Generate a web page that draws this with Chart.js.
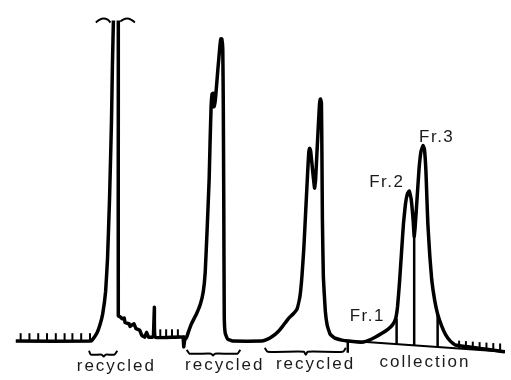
<!DOCTYPE html>
<html>
<head>
<meta charset="utf-8">
<script src="https://cdn.jsdelivr.net/npm/chart.js@4.4.1/dist/chart.umd.min.js"></script>
<style>
  html, body { margin: 0; padding: 0; background: #fff; }
  #wrap { width: 511px; height: 380px; position: relative; }
</style>
</head>
<body>
<div id="wrap"><canvas id="chart"></canvas></div>
<script>
// detector trace (time in arbitrary units, signal above baseline)
const traceTime = [10, 87, 89, 93, 96, 99, 102, 104, 106, 108, 109, 110, null,
  115, 115, 115, 117, 119, 121, 122, 126, 127, 131, 133, 137, 139, 142, 144, 146, 150, 151, 152, 153,
  181, 182, 183, 185, 187, 190, 195, 199, 202, 204, 206, 208, 209, 210, 211, 212, 213, 214, 215, 217,
  219, 220, 221, 222, 222.5, 223, 223.5, 224.5, 227, 232, 262, 268, 273, 278, 283, 289, 294, 298, 301,
  303, 305, 307, 309, 310, 311, 312, 314, 316, 317, 319, 321, 322, 323, 323.5, 324, 325, 327, 329, 332,
  337, 344, 350, 360, 366, 372, 378, 385, 391, 396, 399, 401, 403, 405, 407, 409, 411, 413, 415, 417,
  418, 419, 421, 423, 425, 427, 428.5, 430, 431, 432, 434, 436, 439, 442, 446, 450, 455, 460, 511];
const traceSignal = [4, 4, 6, 12, 20, 32, 55, 90, 150, 230, 290, 335, null,
  335, 250, 30, 29, 27, 28, 23, 22, 19, 22, 17, 15, 10, 8, 13, 8, 8, 10, 39, 8,
  8, -2, 5, 8, 14, 22, 32, 42, 55, 75, 120, 170, 210, 245, 259, 260, 246, 250, 260, 285,
  308, 316, 316, 305, 250, 150, 30, 12, 6, 4, 4, 6, 9, 13, 19, 27, 32, 37, 50,
  70, 100, 140, 180, 198, 203, 200, 180, 162, 170, 210, 248, 254, 250, 200, 130, 70, 35, 20, 11,
  7, 5, 4, 3, 3, 5, 8, 12, 16, 21, 27, 40, 65, 95, 125, 145, 156, 159, 150, 128,
  112, 122, 152, 182, 200, 206, 202, 180, 152, 125, 92, 67, 46, 32, 20, 11, 4, 0, -7];

// drawn baseline under the collected fractions
const baseTime = [340, 511];
const baseSignal = [5, -7];

// fraction cut lines and marker strokes (pairs, split by null)
const cutTime = [400, 400, null, 418, 418, null, 442, 442, null, 182, 182, null, 350, 350];
const cutSignal = [27, 1, null, 112, -0.5, null, 32, -2, null, 10, -3, null, 5, -8];

// event marks on the recorder baseline
const markTime = [15, 24, 33, 42, 51, 60, 68, 77, 86, 158, 164, 170, 176,
  464, 471, 478, 485, 492, 499, 506];
const markSignal = [8, 8, 8, 8, 8, 8, 8, 8, 8, 12, 12, 12, 12,
  0.3, -0.2, -0.7, -1.2, -1.7, -2.2, -2.6];

// off-scale break marks above the first peak
const breakTime = [92, 96, 100, 104, 107, null, 117, 120, 124, 128, 132];
const breakSignal = [333, 336, 337, 336, 333, null, 334, 336, 337, 336, 333];

// braces under the recycled sections
const braceTime = [85, 87, 98, 100, 102, 111, 114, null,
  185, 188, 210, 212, 214, 237, 240, null,
  265, 268, 305, 307, 309, 345, 348];
const braceSignal = [-6, -10, -10, -12, -10, -10, -6, null,
  -5, -9, -9, -11, -9, -9, -5, null,
  -3, -7, -7, -10, -7, -7, -3];

// annotations
const labelText = ["recycled", "recycled", "recycled", "collection", "Fr.1", "Fr.2", "Fr.3"];
const labelTime = [112, 223, 316, 428, 369, 389, 440];
const labelSignal = [-27, -26, -25, -23, 25, 163, 210];

const pts = (xs, ys) => xs.map((x, i) => ({ x: x, y: ys[i] }));

const labelPlugin = {
  id: 'labels',
  afterDatasetsDraw(chart) {
    const ctx = chart.ctx;
    const xs = chart.scales.x, ys = chart.scales.y;
    ctx.save();
    ctx.fillStyle = '#1a1a1a';
    ctx.textAlign = 'center';
    ctx.textBaseline = 'alphabetic';
    labelText.forEach((t, i) => {
      const isFr = t.startsWith('Fr');
      ctx.font = '17px "Liberation Sans", Arial, sans-serif';
      ctx.letterSpacing = isFr ? '1.5px' : '2px';
      ctx.fillText(t, xs.getPixelForValue(labelTime[i]) + 1, ys.getPixelForValue(labelSignal[i]));
    });
    ctx.restore();
  }
};

const lineStyle = { borderColor: '#000', pointRadius: 0, fill: false, spanGaps: false };

new Chart(document.getElementById('chart'), {
  type: 'line',
  data: {
    datasets: [
      Object.assign({ data: pts(traceTime, traceSignal), borderWidth: 3.5, tension: 0.1 }, lineStyle),
      Object.assign({ data: pts(baseTime, baseSignal), borderWidth: 2, tension: 0 }, lineStyle),
      Object.assign({ data: pts(cutTime, cutSignal), borderWidth: 2.5, tension: 0 }, lineStyle),
      Object.assign({ data: pts(breakTime, breakSignal), borderWidth: 2, tension: 0.4 }, lineStyle),
      Object.assign({ data: pts(braceTime, braceSignal), borderWidth: 2, tension: 0.2 }, lineStyle),
      {
        type: 'scatter',
        data: pts(markTime, markSignal),
        pointStyle: 'line',
        rotation: 90,
        pointRadius: 4,
        pointBorderWidth: 2,
        borderColor: '#000',
        backgroundColor: '#000'
      }
    ]
  },
  options: {
    responsive: true,
    maintainAspectRatio: false,
    animation: false,
    devicePixelRatio: 1,
    layout: { padding: 0 },
    plugins: { legend: { display: false }, tooltip: { enabled: false } },
    scales: {
      x: { type: 'linear', min: 0, max: 511, display: false },
      y: { type: 'linear', min: -30, max: 350, display: false }
    }
  },
  plugins: [labelPlugin]
});
</script>
</body>
</html>
